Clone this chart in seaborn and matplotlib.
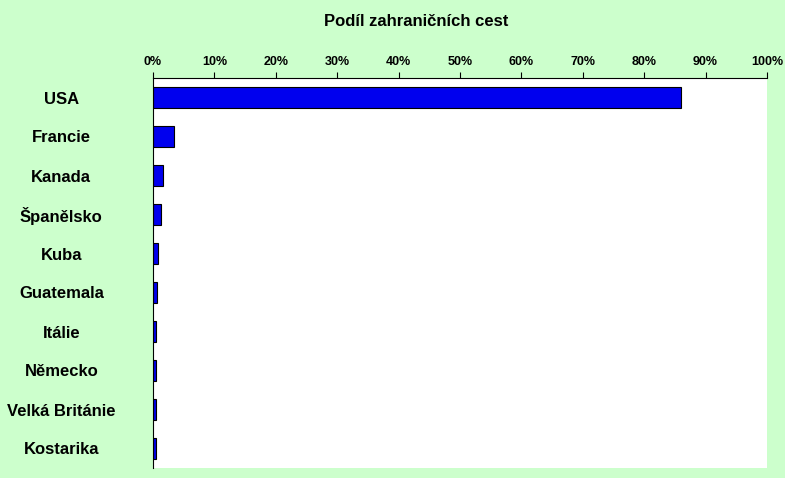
import matplotlib
matplotlib.use("Agg")
import matplotlib.pyplot as plt
import matplotlib.ticker as mticker
import seaborn as sns
import pandas as pd

countries = ["USA", "Francie", "Kanada", "Španělsko", "Kuba", "Guatemala",
             "Itálie", "Německo", "Velká Británie", "Kostarika"]
shares = [0.86, 0.034, 0.017, 0.013, 0.008, 0.0065, 0.005, 0.005, 0.005, 0.005]

df = pd.DataFrame({"country": countries, "share": shares})

sns.set_style("white")
plt.rcParams["font.family"] = ["Liberation Sans", "DejaVu Sans"]
plt.rcParams["text.color"] = "black"
plt.rcParams["xtick.color"] = "black"
plt.rcParams["ytick.color"] = "black"

fig = plt.figure(figsize=(7.85, 4.78), dpi=100, facecolor="#ccffcc")
ax = fig.add_axes([153 / 785, 10 / 478, 614 / 785, 390 / 478])
ax.set_facecolor("white")

sns.barplot(data=df, x="share", y="country", ax=ax, color="#0000ee",
            saturation=1, width=0.55, edgecolor="black", linewidth=0.8)

ax.set_xlim(0, 1)
ax.xaxis.set_major_locator(mticker.MultipleLocator(0.1))
ax.xaxis.set_major_formatter(mticker.PercentFormatter(xmax=1, decimals=0))
ax.xaxis.tick_top()
ax.tick_params(axis="x", labelsize=9, length=4, direction="out", top=True,
               labelcolor="black")
ax.tick_params(axis="y", labelsize=12, length=0, labelcolor="black")
for lbl in ax.get_xticklabels():
    lbl.set_fontweight("bold")
for lbl in ax.get_yticklabels():
    lbl.set_fontweight("bold")
    lbl.set_horizontalalignment("center")
ax.tick_params(axis="y", pad=66)
ax.set_xlabel("")
ax.set_ylabel("")
for s in ["right", "bottom"]:
    ax.spines[s].set_visible(False)
ax.spines["top"].set_color("black")
ax.spines["left"].set_color("black")

fig.text(0.5 + 0.03, 0.945, "Podíl zahraničních cest", ha="center",
         fontsize=12, fontweight="bold", color="black")

fig.savefig("out.png", dpi=100, facecolor=fig.get_facecolor())
